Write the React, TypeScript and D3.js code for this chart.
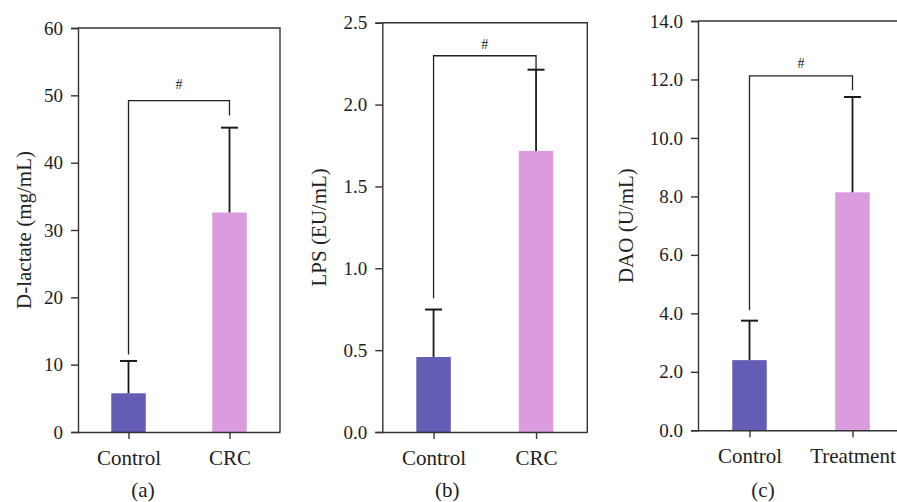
import React, { useEffect, useRef } from 'react';
import * as d3 from 'd3';

// groups
const groupsA = ['Control', 'CRC'];
const groupsB = ['Control', 'CRC'];
const groupsC = ['Control', 'Treatment'];

// means and SD
const dLactateMean = [5.75, 32.6];
const dLactateSd = [4.8, 12.6];
const lpsMean = [0.458, 1.717];
const lpsSd = [0.29, 0.496];
const daoMean = [2.4, 8.14];
const daoSd = [1.35, 3.26];

// significance bracket: [left leg end, bar level, right leg end]
const dLactateBracket = [11.5, 49.2, 47.0];
const lpsBracket = [0.817, 2.298, 2.213];
const daoBracket = [4.11, 12.12, 11.63];

// y ticks
const ticksA = [0, 10, 20, 30, 40, 50, 60];
const ticksB = [0, 0.5, 1.0, 1.5, 2.0, 2.5];
const ticksC = [0, 2, 4, 6, 8, 10, 12, 14];

const barColors = ['#645db5', '#db9cdf'];
const FONT = "'Liberation Serif', 'Times New Roman', serif";

const App = () => {
  const ref = useRef(null);

  useEffect(() => {
    d3.select(ref.current).selectAll('*').remove();

    const svg = d3.select(ref.current)
      .append('svg')
      .attr('width', 897)
      .attr('height', 502)
      .style('position', 'absolute')
      .style('left', 0)
      .style('top', 0)
      .style('font-family', FONT);

    const panels = [
      { groups: groupsA, mean: dLactateMean, sd: dLactateSd, bracket: dLactateBracket, ticks: ticksA, fmt: d3.format('d'),
        yLabel: 'D-lactate (mg/mL)', tag: '(a)', left: 78, width: 202, top: 28, bottom: 432, labelX: 31, hashGap: 12 },
      { groups: groupsB, mean: lpsMean, sd: lpsSd, bracket: lpsBracket, ticks: ticksB, fmt: d3.format('.1f'),
        yLabel: 'LPS (EU/mL)', tag: '(b)', left: 382.3, width: 205, top: 22.7, bottom: 432, labelX: 326, hashGap: 7 },
      { groups: groupsC, mean: daoMean, sd: daoSd, bracket: daoBracket, ticks: ticksC, fmt: d3.format('.1f'),
        yLabel: 'DAO (U/mL)', tag: '(c)', left: 698, width: 206, top: 21, bottom: 430.3, labelX: 633, hashGap: 8 },
    ];

    panels.forEach(p => {
      const g = svg.append('g');
      const right = p.left + p.width;

      const x = d3.scalePoint()
        .domain(p.groups)
        .range([p.left, right])
        .padding(0.5);

      const y = d3.scaleLinear()
        .domain([0, d3.max(p.ticks)])
        .range([p.bottom, p.top]);

      const barW = 34.5;

      // bars
      g.selectAll('.bar')
        .data(p.groups)
        .enter()
        .append('rect')
        .attr('x', d => x(d) - barW / 2)
        .attr('y', (d, i) => y(p.mean[i]))
        .attr('width', barW)
        .attr('height', (d, i) => y(0) - y(p.mean[i]))
        .attr('fill', (d, i) => barColors[i]);

      // error bars (upper only)
      p.groups.forEach((d, i) => {
        const cx = x(d);
        const yTop = y(p.mean[i] + p.sd[i]);
        g.append('line')
          .attr('x1', cx).attr('x2', cx)
          .attr('y1', y(p.mean[i])).attr('y2', yTop)
          .attr('stroke', '#1a1a1a').attr('stroke-width', 1.8);
        g.append('line')
          .attr('x1', cx - 8.5).attr('x2', cx + 8.5)
          .attr('y1', yTop).attr('y2', yTop)
          .attr('stroke', '#1a1a1a').attr('stroke-width', 2);
      });

      // frame: top + right
      g.append('path')
        .attr('d', `M${p.left},${p.top}H${right}V${p.bottom}`)
        .attr('fill', 'none')
        .attr('stroke', '#333')
        .attr('stroke-width', 1.4);

      // y axis
      const yAxis = g.append('g')
        .attr('transform', `translate(${p.left},0)`)
        .call(d3.axisLeft(y).tickValues(p.ticks).tickFormat(p.fmt).tickSize(7).tickPadding(8));
      yAxis.select('.domain').attr('stroke', '#333').attr('stroke-width', 1.4);
      yAxis.selectAll('.tick line').attr('stroke', '#333').attr('stroke-width', 1.4);
      yAxis.selectAll('text')
        .attr('fill', '#222')
        .style('font-family', FONT)
        .style('font-size', '19px');

      // x axis
      const xAxis = g.append('g')
        .attr('transform', `translate(0,${p.bottom})`)
        .call(d3.axisBottom(x).tickSize(7).tickPadding(8).tickSizeOuter(0));
      xAxis.select('.domain').attr('stroke', '#333').attr('stroke-width', 1.4);
      xAxis.selectAll('.tick line').attr('stroke', '#333').attr('stroke-width', 1.4);
      xAxis.selectAll('text')
        .attr('fill', '#222')
        .attr('dy', '0.85em')
        .style('font-family', FONT)
        .style('font-size', '21px');

      // significance bracket
      const [leftEnd, level, rightEnd] = p.bracket;
      const x0 = x(p.groups[0]);
      const x1 = x(p.groups[1]);
      g.append('path')
        .attr('d', `M${x0},${y(leftEnd)}V${y(level)}H${x1}V${y(rightEnd)}`)
        .attr('fill', 'none')
        .attr('stroke', '#222')
        .attr('stroke-width', 1.3);
      g.append('text')
        .attr('x', (x0 + x1) / 2)
        .attr('y', y(level) - p.hashGap)
        .attr('text-anchor', 'middle')
        .style('font-size', '14px')
        .attr('fill', '#222')
        .text('#');

      // y label
      g.append('text')
        .attr('transform', `translate(${p.labelX},${(p.top + p.bottom) / 2}) rotate(-90)`)
        .attr('text-anchor', 'middle')
        .style('font-size', '21px')
        .attr('fill', '#222')
        .text(p.yLabel);

      // panel tag
      g.append('text')
        .attr('x', p.left + 65)
        .attr('y', 497)
        .attr('text-anchor', 'middle')
        .style('font-size', '21px')
        .attr('fill', '#222')
        .text(p.tag);
    });
  }, []);

  return <div ref={ref}></div>;
};

export default App;
